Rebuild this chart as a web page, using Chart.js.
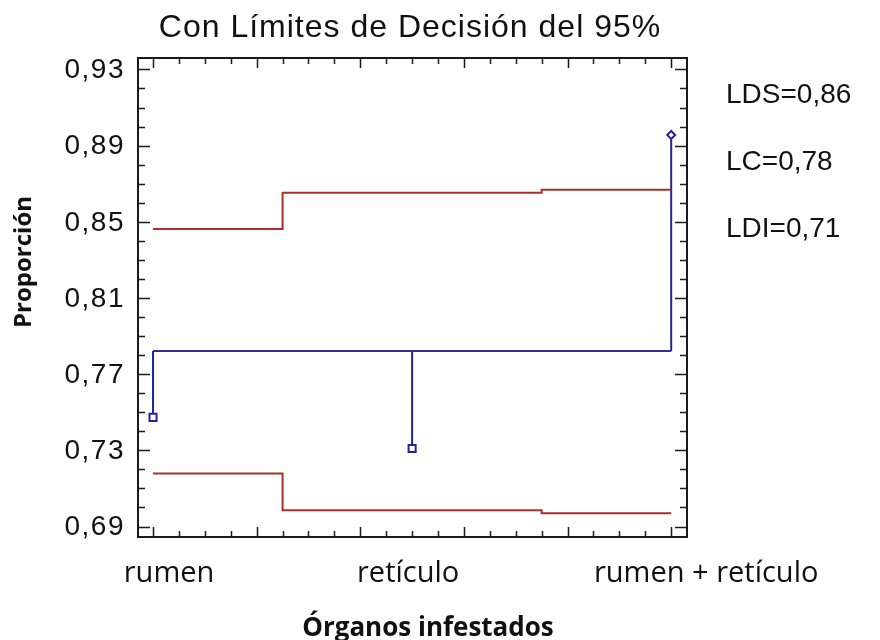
<!DOCTYPE html>
<html>
<head>
<meta charset="utf-8">
<script src="https://cdn.jsdelivr.net/npm/chart.js@4"></script>
<style>
  html, body { margin: 0; padding: 0; background: #fff; }
  #wrap { width: 880px; height: 640px; }
</style>
</head>
<body>
<div id="wrap"><canvas id="anom" width="880" height="640"></canvas></div>
<script>
// Data
const categories = ['rumen', 'retículo', 'rumen + retículo'];
const proportions = [0.7473, 0.7310, 0.8956];
const upperLimits = [0.8462, 0.8652, 0.8668];
const lowerLimits = [0.7179, 0.6986, 0.6970];
const centerLine = 0.7821;
const yTickValues = [0.69, 0.73, 0.77, 0.81, 0.85, 0.89, 0.93];
const limitNotes = ['LDS=0,86', 'LC=0,78', 'LDI=0,71'];
const titleText = 'Con Límites de Decisión del 95%';

// Layout / style
const RED = '#a8302c';
const BLUE = '#23239c';
const catShift = [16, -4, 35];

function fmt(v){ return v.toFixed(2).replace('.', ','); }

// step line built from the group limits
function stepLine(vals){
  const pts = [];
  const last = vals.length - 1;
  vals.forEach((v, i) => {
    pts.push({x: Math.max(0, i - 0.5), y: v});
    pts.push({x: Math.min(last, i + 0.5), y: v});
  });
  return pts;
}

const datasets = [
  { data: stepLine(upperLimits), borderColor: RED, borderWidth: 2, showLine: true, pointRadius: 0 },
  { data: stepLine(lowerLimits), borderColor: RED, borderWidth: 2, showLine: true, pointRadius: 0 },
  { data: [{x: 0, y: centerLine}, {x: categories.length - 1, y: centerLine}], borderColor: '#34289a', borderWidth: 2, showLine: true, pointRadius: 0 }
];
proportions.forEach((p, i) => {
  datasets.push({
    data: [{x: i, y: centerLine}, {x: i, y: p}],
    borderColor: BLUE, borderWidth: 2, showLine: true,
    pointRadius: [0, i === 2 ? 4 : 5],
    pointStyle: i === 2 ? 'rectRot' : 'rect',
    pointBorderColor: BLUE, pointBorderWidth: 2,
    pointBackgroundColor: '#fff'
  });
});

// frame, inward ticks and all the loose text
const decor = {
  id: 'decor',
  afterDraw(chart){
    const {ctx, chartArea: a, scales: {x, y}} = chart;
    ctx.save();
    ctx.strokeStyle = '#1a1a1a';
    ctx.lineWidth = 2;
    ctx.strokeRect(a.left, a.top, a.right - a.left, a.bottom - a.top);

    ctx.lineWidth = 1.5;
    ctx.beginPath();
    // y ticks, minor every 0.01
    for (let k = 69; k <= 93; k++){
      const py = Math.round(y.getPixelForValue(k / 100)) + 0.5;
      const len = (k - 69) % 4 === 0 ? 12 : 7;
      ctx.moveTo(a.left, py); ctx.lineTo(a.left + len, py);
      ctx.moveTo(a.right, py); ctx.lineTo(a.right - len, py);
    }
    // x ticks, minor every 0.1
    for (let k = 0; k <= 20; k++){
      const px = Math.round(x.getPixelForValue(k / 10)) + 0.5;
      const len = k % 4 === 0 ? 10 : 6;
      ctx.moveTo(px, a.top); ctx.lineTo(px, a.top + len);
      ctx.moveTo(px, a.bottom); ctx.lineTo(px, a.bottom - len);
    }
    ctx.stroke();

    ctx.fillStyle = '#111';
    ctx.textBaseline = 'middle';
    ctx.textAlign = 'right';
    ctx.letterSpacing = '1.5px';
    ctx.font = '28px "Liberation Sans", Arial, sans-serif';
    yTickValues.forEach(v => ctx.fillText(fmt(v), a.left - 13, y.getPixelForValue(v) + 1));

    ctx.textBaseline = 'alphabetic';
    ctx.textAlign = 'center';
    ctx.letterSpacing = '1px';
    ctx.font = '32px "Liberation Sans", Arial, sans-serif';
    ctx.fillText(titleText, 410, 37);

    ctx.textAlign = 'left';
    ctx.letterSpacing = '0px';
    ctx.font = '28px "Liberation Sans", Arial, sans-serif';
    limitNotes.forEach((t, i) => ctx.fillText(t, 726, 103 + i * 67));

    ctx.textAlign = 'center';
    ctx.font = '29px "Open Sans", sans-serif';
    categories.forEach((c, i) => ctx.fillText(c, x.getPixelForValue(i) + catShift[i], 582));

    ctx.font = 'bold 26px "Open Sans", sans-serif';
    ctx.fillText('Órganos infestados', 428, 636);

    ctx.translate(24, 262);
    ctx.rotate(-Math.PI / 2);
    ctx.textBaseline = 'middle';
    ctx.font = 'bold 24px "Open Sans", sans-serif';
    ctx.fillText('Proporción', 0, 0);
    ctx.restore();
  }
};

new Chart(document.getElementById('anom').getContext('2d'), {
  type: 'scatter',
  data: { datasets },
  options: {
    responsive: false,
    animation: false,
    layout: { padding: { top: 58, right: 193, left: 0, bottom: 0 } },
    plugins: { legend: { display: false }, tooltip: { enabled: false }, title: { display: false } },
    scales: {
      x: {
        type: 'linear', min: -0.058, max: 2.061,
        grid: { display: false }, border: { display: false },
        ticks: { display: false },
        afterFit(s){ s.height = 103; }
      },
      y: {
        type: 'linear', min: 0.6845, max: 0.936,
        grid: { display: false, drawTicks: false }, border: { display: false },
        afterBuildTicks(s){ s.ticks = yTickValues.map(v => ({value: v})); },
        ticks: { display: false },
        afterFit(s){ s.width = 138; }
      }
    }
  },
  plugins: [decor]
});
</script>
</body>
</html>
